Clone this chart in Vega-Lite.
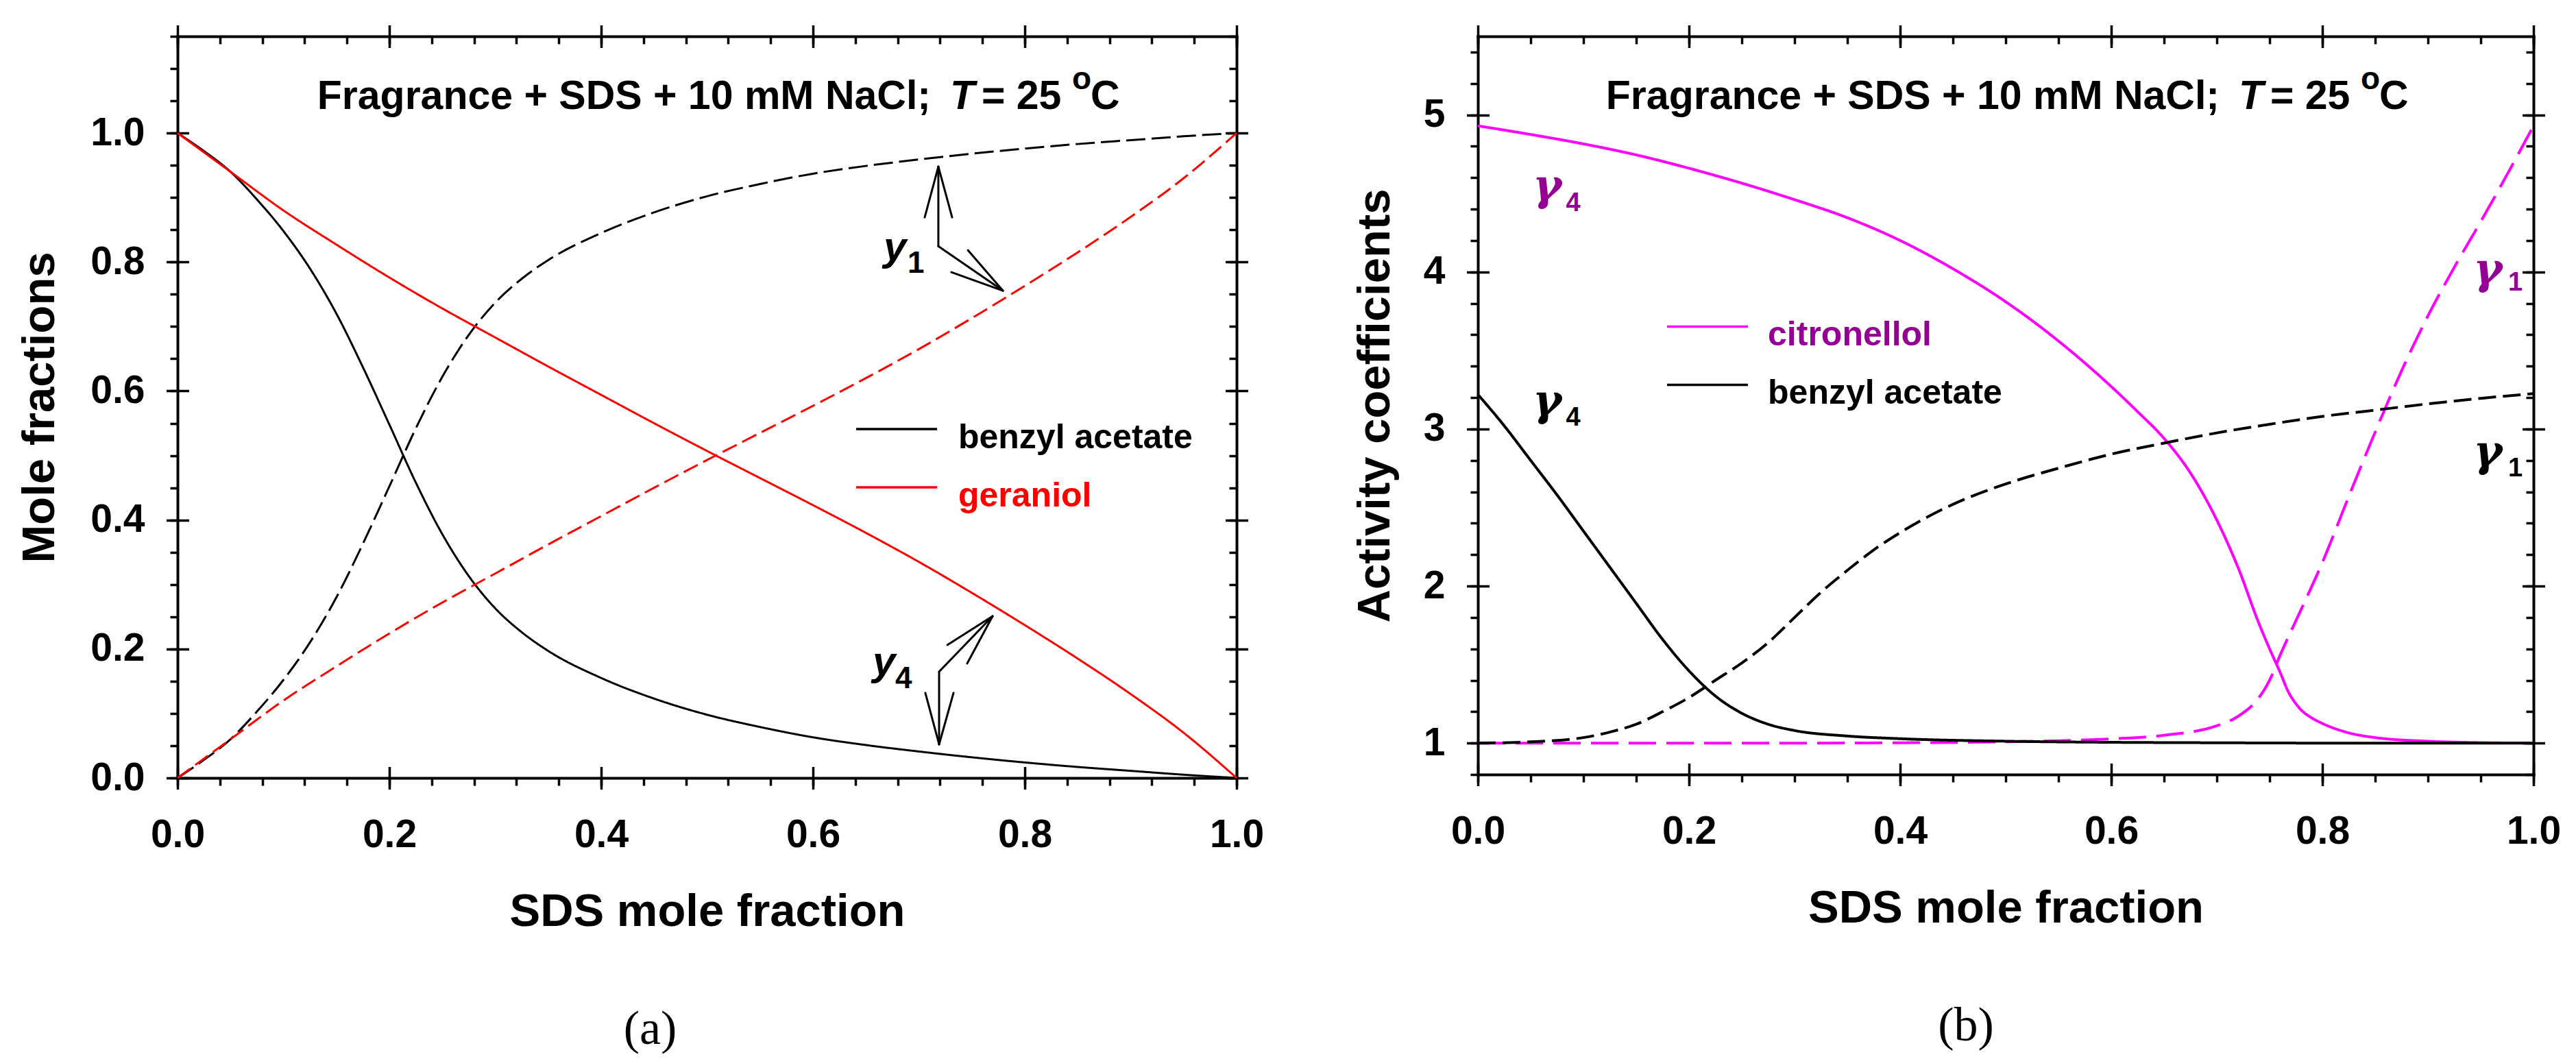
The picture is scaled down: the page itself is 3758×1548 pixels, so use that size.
{
  "$schema": "https://vega.github.io/schema/vega-lite/v6.json",
  "background": "white",
  "padding": {"left": 24, "top": 24, "right": 0, "bottom": 0},
  "spacing": 128,
  "resolve": {"scale": {"color": "independent", "strokeDash": "independent", "strokeWidth": "independent"}},
  "config": {
    "view": {"stroke": null},
    "axis": {
      "domainColor": "#000000", "domainWidth": 4, "domainCap": "square",
      "tickColor": "#000000", "tickWidth": 3.5, "tickCap": "butt",
      "labelFont": "Liberation Sans", "labelFontWeight": "bold", "labelFontSize": 57, "labelColor": "#000000",
      "titleFont": "Liberation Sans", "titleFontWeight": "bold", "titleFontSize": 67, "titleColor": "#000000",
      "grid": false, "labelFlush": false, "labelOverlap": false
    }
  },
  "datasets": {
    "a_curves": [
      {"s":"ba_y4","x":0,"y":1},{"s":"ba_y4","x":0.025,"y":0.972},{"s":"ba_y4","x":0.05,"y":0.94},{"s":"ba_y4","x":0.075,"y":0.897},{"s":"ba_y4","x":0.1,"y":0.848},{"s":"ba_y4","x":0.125,"y":0.79},{"s":"ba_y4","x":0.15,"y":0.72},{"s":"ba_y4","x":0.175,"y":0.637},{"s":"ba_y4","x":0.2,"y":0.548},{"s":"ba_y4","x":0.225,"y":0.458},{"s":"ba_y4","x":0.25,"y":0.378},{"s":"ba_y4","x":0.275,"y":0.313},{"s":"ba_y4","x":0.3,"y":0.263},{"s":"ba_y4","x":0.325,"y":0.226},{"s":"ba_y4","x":0.35,"y":0.197},{"s":"ba_y4","x":0.4,"y":0.155},{"s":"ba_y4","x":0.45,"y":0.123},{"s":"ba_y4","x":0.5,"y":0.098},{"s":"ba_y4","x":0.55,"y":0.079},{"s":"ba_y4","x":0.6,"y":0.063},{"s":"ba_y4","x":0.65,"y":0.051},{"s":"ba_y4","x":0.7,"y":0.041},{"s":"ba_y4","x":0.75,"y":0.032},{"s":"ba_y4","x":0.8,"y":0.024},{"s":"ba_y4","x":0.85,"y":0.017},{"s":"ba_y4","x":0.9,"y":0.011},{"s":"ba_y4","x":0.95,"y":0.005},{"s":"ba_y4","x":1,"y":0},
      {"s":"ba_y1","x":0,"y":0},{"s":"ba_y1","x":0.025,"y":0.028},{"s":"ba_y1","x":0.05,"y":0.06},{"s":"ba_y1","x":0.075,"y":0.103},{"s":"ba_y1","x":0.1,"y":0.152},{"s":"ba_y1","x":0.125,"y":0.21},{"s":"ba_y1","x":0.15,"y":0.28},{"s":"ba_y1","x":0.175,"y":0.363},{"s":"ba_y1","x":0.2,"y":0.452},{"s":"ba_y1","x":0.225,"y":0.542},{"s":"ba_y1","x":0.25,"y":0.622},{"s":"ba_y1","x":0.275,"y":0.687},{"s":"ba_y1","x":0.3,"y":0.737},{"s":"ba_y1","x":0.325,"y":0.774},{"s":"ba_y1","x":0.35,"y":0.803},{"s":"ba_y1","x":0.4,"y":0.845},{"s":"ba_y1","x":0.45,"y":0.877},{"s":"ba_y1","x":0.5,"y":0.902},{"s":"ba_y1","x":0.55,"y":0.921},{"s":"ba_y1","x":0.6,"y":0.937},{"s":"ba_y1","x":0.65,"y":0.949},{"s":"ba_y1","x":0.7,"y":0.959},{"s":"ba_y1","x":0.75,"y":0.968},{"s":"ba_y1","x":0.8,"y":0.976},{"s":"ba_y1","x":0.85,"y":0.983},{"s":"ba_y1","x":0.9,"y":0.989},{"s":"ba_y1","x":0.95,"y":0.995},{"s":"ba_y1","x":1,"y":1},
      {"s":"ger_y4","x":0,"y":1},{"s":"ger_y4","x":0.05,"y":0.94},{"s":"ger_y4","x":0.1,"y":0.88},{"s":"ger_y4","x":0.15,"y":0.827},{"s":"ger_y4","x":0.2,"y":0.776},{"s":"ger_y4","x":0.25,"y":0.728},{"s":"ger_y4","x":0.3,"y":0.683},{"s":"ger_y4","x":0.35,"y":0.638},{"s":"ger_y4","x":0.4,"y":0.594},{"s":"ger_y4","x":0.45,"y":0.55},{"s":"ger_y4","x":0.5,"y":0.507},{"s":"ger_y4","x":0.55,"y":0.465},{"s":"ger_y4","x":0.6,"y":0.423},{"s":"ger_y4","x":0.65,"y":0.38},{"s":"ger_y4","x":0.7,"y":0.335},{"s":"ger_y4","x":0.75,"y":0.287},{"s":"ger_y4","x":0.8,"y":0.237},{"s":"ger_y4","x":0.85,"y":0.185},{"s":"ger_y4","x":0.9,"y":0.13},{"s":"ger_y4","x":0.95,"y":0.07},{"s":"ger_y4","x":1,"y":0},
      {"s":"ger_y1","x":0,"y":0},{"s":"ger_y1","x":0.05,"y":0.06},{"s":"ger_y1","x":0.1,"y":0.12},{"s":"ger_y1","x":0.15,"y":0.173},{"s":"ger_y1","x":0.2,"y":0.224},{"s":"ger_y1","x":0.25,"y":0.272},{"s":"ger_y1","x":0.3,"y":0.317},{"s":"ger_y1","x":0.35,"y":0.362},{"s":"ger_y1","x":0.4,"y":0.406},{"s":"ger_y1","x":0.45,"y":0.45},{"s":"ger_y1","x":0.5,"y":0.493},{"s":"ger_y1","x":0.55,"y":0.535},{"s":"ger_y1","x":0.6,"y":0.577},{"s":"ger_y1","x":0.65,"y":0.62},{"s":"ger_y1","x":0.7,"y":0.665},{"s":"ger_y1","x":0.75,"y":0.713},{"s":"ger_y1","x":0.8,"y":0.763},{"s":"ger_y1","x":0.85,"y":0.815},{"s":"ger_y1","x":0.9,"y":0.87},{"s":"ger_y1","x":0.95,"y":0.93},{"s":"ger_y1","x":1,"y":1}
    ],
    "b_curves": [
      {"s":"cit_g4","x":0,"y":4.93},{"s":"cit_g4","x":0.05,"y":4.875},{"s":"cit_g4","x":0.1,"y":4.815},{"s":"cit_g4","x":0.15,"y":4.745},{"s":"cit_g4","x":0.2,"y":4.66},{"s":"cit_g4","x":0.25,"y":4.565},{"s":"cit_g4","x":0.3,"y":4.46},{"s":"cit_g4","x":0.35,"y":4.345},{"s":"cit_g4","x":0.4,"y":4.2},{"s":"cit_g4","x":0.45,"y":4.02},{"s":"cit_g4","x":0.5,"y":3.81},{"s":"cit_g4","x":0.55,"y":3.56},{"s":"cit_g4","x":0.6,"y":3.27},{"s":"cit_g4","x":0.625,"y":3.11},{"s":"cit_g4","x":0.65,"y":2.94},{"s":"cit_g4","x":0.675,"y":2.72},{"s":"cit_g4","x":0.7,"y":2.42},{"s":"cit_g4","x":0.72,"y":2.12},{"s":"cit_g4","x":0.74,"y":1.76},{"s":"cit_g4","x":0.75,"y":1.6},{"s":"cit_g4","x":0.76,"y":1.45},{"s":"cit_g4","x":0.7675,"y":1.33},{"s":"cit_g4","x":0.775,"y":1.25},{"s":"cit_g4","x":0.78,"y":1.21},{"s":"cit_g4","x":0.79,"y":1.16},{"s":"cit_g4","x":0.8,"y":1.125},{"s":"cit_g4","x":0.825,"y":1.065},{"s":"cit_g4","x":0.85,"y":1.035},{"s":"cit_g4","x":0.9,"y":1.012},{"s":"cit_g4","x":0.95,"y":1.003},{"s":"cit_g4","x":1,"y":1},
      {"s":"cit_g1","x":0,"y":1},{"s":"cit_g1","x":0.1,"y":1},{"s":"cit_g1","x":0.2,"y":1},{"s":"cit_g1","x":0.3,"y":1},{"s":"cit_g1","x":0.4,"y":1.002},{"s":"cit_g1","x":0.45,"y":1.004},{"s":"cit_g1","x":0.5,"y":1.008},{"s":"cit_g1","x":0.55,"y":1.015},{"s":"cit_g1","x":0.6,"y":1.027},{"s":"cit_g1","x":0.65,"y":1.05},{"s":"cit_g1","x":0.7,"y":1.11},{"s":"cit_g1","x":0.72,"y":1.17},{"s":"cit_g1","x":0.74,"y":1.29},{"s":"cit_g1","x":0.75,"y":1.4},{"s":"cit_g1","x":0.76,"y":1.56},{"s":"cit_g1","x":0.775,"y":1.78},{"s":"cit_g1","x":0.8,"y":2.15},{"s":"cit_g1","x":0.825,"y":2.57},{"s":"cit_g1","x":0.85,"y":2.98},{"s":"cit_g1","x":0.875,"y":3.37},{"s":"cit_g1","x":0.9,"y":3.72},{"s":"cit_g1","x":0.925,"y":4.03},{"s":"cit_g1","x":0.95,"y":4.32},{"s":"cit_g1","x":0.975,"y":4.62},{"s":"cit_g1","x":1,"y":4.93},
      {"s":"ba_g4","x":0,"y":3.22},{"s":"ba_g4","x":0.025,"y":3.02},{"s":"ba_g4","x":0.05,"y":2.8},{"s":"ba_g4","x":0.075,"y":2.58},{"s":"ba_g4","x":0.1,"y":2.35},{"s":"ba_g4","x":0.125,"y":2.12},{"s":"ba_g4","x":0.15,"y":1.89},{"s":"ba_g4","x":0.175,"y":1.66},{"s":"ba_g4","x":0.2,"y":1.46},{"s":"ba_g4","x":0.225,"y":1.3},{"s":"ba_g4","x":0.25,"y":1.19},{"s":"ba_g4","x":0.275,"y":1.12},{"s":"ba_g4","x":0.3,"y":1.08},{"s":"ba_g4","x":0.35,"y":1.045},{"s":"ba_g4","x":0.4,"y":1.028},{"s":"ba_g4","x":0.5,"y":1.012},{"s":"ba_g4","x":0.6,"y":1.005},{"s":"ba_g4","x":0.7,"y":1.002},{"s":"ba_g4","x":0.8,"y":1},{"s":"ba_g4","x":1,"y":1},
      {"s":"ba_g1","x":0,"y":1},{"s":"ba_g1","x":0.05,"y":1.008},{"s":"ba_g1","x":0.1,"y":1.035},{"s":"ba_g1","x":0.125,"y":1.07},{"s":"ba_g1","x":0.15,"y":1.12},{"s":"ba_g1","x":0.175,"y":1.2},{"s":"ba_g1","x":0.2,"y":1.29},{"s":"ba_g1","x":0.225,"y":1.4},{"s":"ba_g1","x":0.25,"y":1.51},{"s":"ba_g1","x":0.275,"y":1.64},{"s":"ba_g1","x":0.3,"y":1.8},{"s":"ba_g1","x":0.325,"y":1.96},{"s":"ba_g1","x":0.35,"y":2.1},{"s":"ba_g1","x":0.375,"y":2.23},{"s":"ba_g1","x":0.4,"y":2.34},{"s":"ba_g1","x":0.45,"y":2.52},{"s":"ba_g1","x":0.5,"y":2.65},{"s":"ba_g1","x":0.55,"y":2.75},{"s":"ba_g1","x":0.6,"y":2.84},{"s":"ba_g1","x":0.65,"y":2.91},{"s":"ba_g1","x":0.7,"y":2.975},{"s":"ba_g1","x":0.75,"y":3.03},{"s":"ba_g1","x":0.8,"y":3.08},{"s":"ba_g1","x":0.85,"y":3.12},{"s":"ba_g1","x":0.9,"y":3.16},{"s":"ba_g1","x":0.95,"y":3.195},{"s":"ba_g1","x":1,"y":3.225}
    ],
    "a_arrows": [
      {"x":0.7184,"y":0.8246,"x2":0.7184,"y2":0.9479},
      {"x":0.7184,"y":0.9479,"x2":0.7055,"y2":0.8693},
      {"x":0.7184,"y":0.9479,"x2":0.7314,"y2":0.8693},
      {"x":0.7184,"y":0.8246,"x2":0.7793,"y2":0.7556},
      {"x":0.7793,"y":0.7556,"x2":0.7307,"y2":0.7843},
      {"x":0.7793,"y":0.7556,"x2":0.7463,"y2":0.8183},
      {"x":0.7191,"y":0.1647,"x2":0.7191,"y2":0.0521},
      {"x":0.7191,"y":0.0521,"x2":0.7061,"y2":0.1318},
      {"x":0.7191,"y":0.0521,"x2":0.7327,"y2":0.1318},
      {"x":0.7191,"y":0.1647,"x2":0.7696,"y2":0.2508},
      {"x":0.7696,"y":0.2508,"x2":0.7269,"y2":0.2062},
      {"x":0.7696,"y":0.2508,"x2":0.7456,"y2":0.1775}
    ]
  },
  "hconcat": [
    {
      "width": 1545,
      "height": 1082,
      "title": {"text": "(a)", "orient": "bottom", "anchor": "middle", "frame": "group", "font": "Liberation Serif", "fontSize": 70, "fontWeight": "normal", "color": "#000000", "offset": 105, "dx": -83},
      "resolve": {"axis": {"x": "independent", "y": "independent"}},
      "layer": [
        {
          "data": {"name": "a_curves"},
          "mark": {"type": "line", "interpolate": "monotone", "strokeCap": "butt"},
          "encoding": {
            "x": {"field": "x", "type": "quantitative", "scale": {"domain": [0, 1], "nice": false, "zero": false},
              "axis": {"orient": "bottom", "values": [0,0.04,0.08,0.12,0.16,0.2,0.24,0.28,0.32,0.36,0.4,0.44,0.48,0.52,0.56,0.6,0.64,0.68,0.72,0.76,0.8,0.84,0.88,0.92,0.96,1],
                "labelExpr": "round(datum.value*25) % 5 == 0 ? format(datum.value, '.1f') : ''",
                "tickSize": 11, "labelPadding": 44, "title": "SDS mole fraction", "titlePadding": 51}},
            "y": {"field": "y", "type": "quantitative", "scale": {"domain": [0, 1.15], "nice": false, "zero": false},
              "axis": {"orient": "left", "values": [0,0.05,0.1,0.15,0.2,0.25,0.3,0.35,0.4,0.45,0.5,0.55,0.6,0.65,0.7,0.75,0.8,0.85,0.9,0.95,1,1.05,1.1,1.15],
                "labelExpr": "round(datum.value*20) % 4 == 0 ? format(datum.value, '.1f') : ''",
                "tickSize": 11, "labelPadding": 37, "title": "Mole fractions", "titlePadding": 39}},
            "color": {"field": "s", "type": "nominal", "scale": {"domain": ["ba_y4","ba_y1","ger_y4","ger_y1"], "range": ["#000000","#000000","#FF0000","#FF0000"]}, "legend": null},
            "strokeDash": {"field": "s", "type": "nominal", "scale": {"domain": ["ba_y4","ba_y1","ger_y4","ger_y1"], "range": [[1,0],[28,9],[1,0],[23,9]]}, "legend": null},
            "strokeWidth": {"field": "s", "type": "nominal", "scale": {"domain": ["ba_y4","ba_y1","ger_y4","ger_y1"], "range": [3,3,3.8,3.8]}, "legend": null}
          }
        },
        {
          "data": {"values": [{"x": 0, "y": 0}]},
          "mark": {"type": "point", "opacity": 0},
          "encoding": {
            "x": {"field": "x", "type": "quantitative", "scale": {"domain": [0, 1], "nice": false, "zero": false},
              "axis": {"orient": "bottom", "values": [0,0.2,0.4,0.6,0.8,1], "labels": false, "domain": false, "tickSize": 33, "offset": -16.5, "title": null}},
            "y": {"field": "y", "type": "quantitative", "scale": {"domain": [0, 1.15], "nice": false, "zero": false},
              "axis": {"orient": "left", "values": [0,0.2,0.4,0.6,0.8,1], "labels": false, "domain": false, "tickSize": 33, "offset": -16.5, "title": null}}
          }
        },
        {
          "data": {"values": [{"x": 0, "y": 0}]},
          "mark": {"type": "point", "opacity": 0},
          "encoding": {
            "x": {"field": "x", "type": "quantitative", "scale": {"domain": [0, 1], "nice": false, "zero": false},
              "axis": {"orient": "top", "values": [0,0.04,0.08,0.12,0.16,0.2,0.24,0.28,0.32,0.36,0.4,0.44,0.48,0.52,0.56,0.6,0.64,0.68,0.72,0.76,0.8,0.84,0.88,0.92,0.96,1], "labels": false, "tickSize": -11, "title": null}},
            "y": {"field": "y", "type": "quantitative", "scale": {"domain": [0, 1.15], "nice": false, "zero": false},
              "axis": {"orient": "right", "values": [0,0.05,0.1,0.15,0.2,0.25,0.3,0.35,0.4,0.45,0.5,0.55,0.6,0.65,0.7,0.75,0.8,0.85,0.9,0.95,1,1.05,1.1,1.15], "labels": false, "tickSize": -11, "title": null}}
          }
        },
        {
          "data": {"values": [{"x": 0, "y": 0}]},
          "mark": {"type": "point", "opacity": 0},
          "encoding": {
            "x": {"field": "x", "type": "quantitative", "scale": {"domain": [0, 1], "nice": false, "zero": false},
              "axis": {"orient": "top", "values": [0,0.2,0.4,0.6,0.8,1], "labels": false, "domain": false, "tickSize": 33, "offset": -16.5, "title": null}},
            "y": {"field": "y", "type": "quantitative", "scale": {"domain": [0, 1.15], "nice": false, "zero": false},
              "axis": {"orient": "right", "values": [0,0.2,0.4,0.6,0.8,1], "labels": false, "domain": false, "tickSize": 33, "offset": -16.5, "title": null}}
          }
        },
        {
          "data": {"values": [{"s": "ba_y4", "x": 0.6408, "x2": 0.7172, "y": 0.5409}, {"s": "ger_y4", "x": 0.6408, "x2": 0.7172, "y": 0.4506}]},
          "mark": {"type": "rule", "strokeWidth": 3.5},
          "encoding": {
            "x": {"field": "x", "type": "quantitative", "scale": {"domain": [0, 1], "nice": false, "zero": false}, "axis": null},
            "x2": {"field": "x2"},
            "y": {"field": "y", "type": "quantitative", "scale": {"domain": [0, 1.15], "nice": false, "zero": false}, "axis": null},
            "color": {"field": "s", "type": "nominal", "scale": {"domain": ["ba_y4","ba_y1","ger_y4","ger_y1"], "range": ["#000000","#000000","#FF0000","#FF0000"]}, "legend": null}
          }
        },
        {
          "data": {"values": [{"x": 0.7372, "y": 0.5111, "t": "benzyl acetate"}]},
          "mark": {"type": "text", "font": "Liberation Sans", "fontWeight": "bold", "fontSize": 50, "align": "left", "baseline": "alphabetic", "color": "#000000"},
          "encoding": {
            "x": {"field": "x", "type": "quantitative", "scale": {"domain": [0, 1], "nice": false, "zero": false}, "axis": null},
            "y": {"field": "y", "type": "quantitative", "scale": {"domain": [0, 1.15], "nice": false, "zero": false}, "axis": null},
            "text": {"field": "t"}
          }
        },
        {
          "data": {"values": [{"x": 0.7372, "y": 0.4208, "t": "geraniol"}]},
          "mark": {"type": "text", "font": "Liberation Sans", "fontWeight": "bold", "fontSize": 50, "align": "left", "baseline": "alphabetic", "color": "#FF0000"},
          "encoding": {
            "x": {"field": "x", "type": "quantitative", "scale": {"domain": [0, 1], "nice": false, "zero": false}, "axis": null},
            "y": {"field": "y", "type": "quantitative", "scale": {"domain": [0, 1.15], "nice": false, "zero": false}, "axis": null},
            "text": {"field": "t"}
          }
        },
        {
          "data": {"values": [{"x": 0.7113, "y": 1.0372, "t": "Fragrance + SDS + 10 mM NaCl;"}]},
          "mark": {"type": "text", "font": "Liberation Sans", "fontWeight": "bold", "fontSize": 59, "align": "right", "baseline": "alphabetic", "color": "#000000"},
          "encoding": {
            "x": {"field": "x", "type": "quantitative", "scale": {"domain": [0, 1], "nice": false, "zero": false}, "axis": null},
            "y": {"field": "y", "type": "quantitative", "scale": {"domain": [0, 1.15], "nice": false, "zero": false}, "axis": null},
            "text": {"field": "t"}
          }
        },
        {
          "data": {"values": [{"x": 0.7592, "y": 1.0372, "t": "= 25"}, {"x": 0.8621, "y": 1.0372, "t": "C"}]},
          "mark": {"type": "text", "font": "Liberation Sans", "fontWeight": "bold", "fontSize": 59, "align": "left", "baseline": "alphabetic", "color": "#000000"},
          "encoding": {
            "x": {"field": "x", "type": "quantitative", "scale": {"domain": [0, 1], "nice": false, "zero": false}, "axis": null},
            "y": {"field": "y", "type": "quantitative", "scale": {"domain": [0, 1.15], "nice": false, "zero": false}, "axis": null},
            "text": {"field": "t"}
          }
        },
        {
          "data": {"values": [{"x": 0.7294, "y": 1.0372, "t": "T"}]},
          "mark": {"type": "text", "font": "Liberation Sans", "fontWeight": "bold", "fontStyle": "italic", "fontSize": 59, "align": "left", "baseline": "alphabetic", "color": "#000000"},
          "encoding": {
            "x": {"field": "x", "type": "quantitative", "scale": {"domain": [0, 1], "nice": false, "zero": false}, "axis": null},
            "y": {"field": "y", "type": "quantitative", "scale": {"domain": [0, 1.15], "nice": false, "zero": false}, "axis": null},
            "text": {"field": "t"}
          }
        },
        {
          "data": {"values": [{"x": 0.8447, "y": 1.068, "t": "o"}]},
          "mark": {"type": "text", "font": "Liberation Sans", "fontWeight": "bold", "fontSize": 46, "align": "left", "baseline": "alphabetic", "color": "#000000"},
          "encoding": {
            "x": {"field": "x", "type": "quantitative", "scale": {"domain": [0, 1], "nice": false, "zero": false}, "axis": null},
            "y": {"field": "y", "type": "quantitative", "scale": {"domain": [0, 1.15], "nice": false, "zero": false}, "axis": null},
            "text": {"field": "t"}
          }
        },
        {
          "data": {"values": [{"x": 0.6667, "y": 0.8023, "t": "y"}, {"x": 0.6563, "y": 0.1594, "t": "y"}]},
          "mark": {"type": "text", "font": "Liberation Sans", "fontWeight": "bold", "fontStyle": "italic", "fontSize": 60, "align": "left", "baseline": "alphabetic", "color": "#000000"},
          "encoding": {
            "x": {"field": "x", "type": "quantitative", "scale": {"domain": [0, 1], "nice": false, "zero": false}, "axis": null},
            "y": {"field": "y", "type": "quantitative", "scale": {"domain": [0, 1.15], "nice": false, "zero": false}, "axis": null},
            "text": {"field": "t"}
          }
        },
        {
          "data": {"values": [{"x": 0.6893, "y": 0.7832, "t": "1"}, {"x": 0.6777, "y": 0.1392, "t": "4"}]},
          "mark": {"type": "text", "font": "Liberation Sans", "fontWeight": "bold", "fontSize": 44, "align": "left", "baseline": "alphabetic", "color": "#000000"},
          "encoding": {
            "x": {"field": "x", "type": "quantitative", "scale": {"domain": [0, 1], "nice": false, "zero": false}, "axis": null},
            "y": {"field": "y", "type": "quantitative", "scale": {"domain": [0, 1.15], "nice": false, "zero": false}, "axis": null},
            "text": {"field": "t"}
          }
        },
        {
          "data": {"name": "a_arrows"},
          "mark": {"type": "rule", "color": "#000000", "strokeWidth": 3, "strokeCap": "round"},
          "encoding": {
            "x": {"field": "x", "type": "quantitative", "scale": {"domain": [0, 1], "nice": false, "zero": false}, "axis": null},
            "y": {"field": "y", "type": "quantitative", "scale": {"domain": [0, 1.15], "nice": false, "zero": false}, "axis": null},
            "x2": {"field": "x2"},
            "y2": {"field": "y2"}
          }
        }
      ]
    },
    {
      "width": 1540,
      "height": 1077,
      "title": {"text": "(b)", "orient": "bottom", "anchor": "middle", "frame": "group", "font": "Liberation Serif", "fontSize": 70, "fontWeight": "normal", "color": "#000000", "offset": 105, "dx": -58},
      "resolve": {"axis": {"x": "independent", "y": "independent"}},
      "layer": [
        {
          "data": {"name": "b_curves"},
          "mark": {"type": "line", "interpolate": "monotone", "strokeCap": "butt"},
          "encoding": {
            "x": {"field": "x", "type": "quantitative", "scale": {"domain": [0, 1], "nice": false, "zero": false},
              "axis": {"orient": "bottom", "values": [0,0.05,0.1,0.15,0.2,0.25,0.3,0.35,0.4,0.45,0.5,0.55,0.6,0.65,0.7,0.75,0.8,0.85,0.9,0.95,1],
                "labelExpr": "round(datum.value*20) % 4 == 0 ? format(datum.value, '.1f') : ''",
                "tickSize": 11, "labelPadding": 44, "title": "SDS mole fraction", "titlePadding": 51}},
            "y": {"field": "y", "type": "quantitative", "scale": {"domain": [0.8, 5.5], "nice": false, "zero": false},
              "axis": {"orient": "left", "values": [0.8,1,1.2,1.4,1.6,1.8,2,2.2,2.4,2.6,2.8,3,3.2,3.4,3.6,3.8,4,4.2,4.4,4.6,4.8,5,5.2,5.4],
                "labelExpr": "abs(datum.value - round(datum.value)) < 0.01 ? format(datum.value, 'd') : ''",
                "tickSize": 11, "labelPadding": 37, "title": "Activity coefficients", "titlePadding": 36}},
            "color": {"field": "s", "type": "nominal", "scale": {"domain": ["cit_g4","cit_g1","ba_g4","ba_g1"], "range": ["#FF00FF","#FF00FF","#000000","#000000"]}, "legend": null},
            "strokeDash": {"field": "s", "type": "nominal", "scale": {"domain": ["cit_g4","cit_g1","ba_g4","ba_g1"], "range": [[1,0],[40,15],[1,0],[26,10]]}, "legend": null},
            "strokeWidth": {"field": "s", "type": "nominal", "scale": {"domain": ["cit_g4","cit_g1","ba_g4","ba_g1"], "range": [4,4,3,3]}, "legend": null}
          }
        },
        {
          "data": {"values": [{"x": 0, "y": 1}]},
          "mark": {"type": "point", "opacity": 0},
          "encoding": {
            "x": {"field": "x", "type": "quantitative", "scale": {"domain": [0, 1], "nice": false, "zero": false},
              "axis": {"orient": "bottom", "values": [0,0.2,0.4,0.6,0.8,1], "labels": false, "domain": false, "tickSize": 33, "offset": -16.5, "title": null}},
            "y": {"field": "y", "type": "quantitative", "scale": {"domain": [0.8, 5.5], "nice": false, "zero": false},
              "axis": {"orient": "left", "values": [1,2,3,4,5], "labels": false, "domain": false, "tickSize": 33, "offset": -16.5, "title": null}}
          }
        },
        {
          "data": {"values": [{"x": 0, "y": 1}]},
          "mark": {"type": "point", "opacity": 0},
          "encoding": {
            "x": {"field": "x", "type": "quantitative", "scale": {"domain": [0, 1], "nice": false, "zero": false},
              "axis": {"orient": "top", "values": [0,0.05,0.1,0.15,0.2,0.25,0.3,0.35,0.4,0.45,0.5,0.55,0.6,0.65,0.7,0.75,0.8,0.85,0.9,0.95,1], "labels": false, "tickSize": -11, "title": null}},
            "y": {"field": "y", "type": "quantitative", "scale": {"domain": [0.8, 5.5], "nice": false, "zero": false},
              "axis": {"orient": "right", "values": [0.8,1,1.2,1.4,1.6,1.8,2,2.2,2.4,2.6,2.8,3,3.2,3.4,3.6,3.8,4,4.2,4.4,4.6,4.8,5,5.2,5.4], "labels": false, "tickSize": -11, "title": null}}
          }
        },
        {
          "data": {"values": [{"x": 0, "y": 1}]},
          "mark": {"type": "point", "opacity": 0},
          "encoding": {
            "x": {"field": "x", "type": "quantitative", "scale": {"domain": [0, 1], "nice": false, "zero": false},
              "axis": {"orient": "top", "values": [0,0.2,0.4,0.6,0.8,1], "labels": false, "domain": false, "tickSize": 33, "offset": -16.5, "title": null}},
            "y": {"field": "y", "type": "quantitative", "scale": {"domain": [0.8, 5.5], "nice": false, "zero": false},
              "axis": {"orient": "right", "values": [1,2,3,4,5], "labels": false, "domain": false, "tickSize": 33, "offset": -16.5, "title": null}}
          }
        },
        {
          "data": {"values": [{"s": "cit_g4", "x": 0.1792, "x2": 0.2558, "y": 3.652}, {"s": "ba_g4", "x": 0.1792, "x2": 0.2558, "y": 3.281}]},
          "mark": {"type": "rule", "strokeWidth": 3.5},
          "encoding": {
            "x": {"field": "x", "type": "quantitative", "scale": {"domain": [0, 1], "nice": false, "zero": false}, "axis": null},
            "x2": {"field": "x2"},
            "y": {"field": "y", "type": "quantitative", "scale": {"domain": [0.8, 5.5], "nice": false, "zero": false}, "axis": null},
            "color": {"field": "s", "type": "nominal", "scale": {"domain": ["cit_g4","cit_g1","ba_g4","ba_g1"], "range": ["#FF00FF","#FF00FF","#000000","#000000"]}, "legend": null}
          }
        },
        {
          "data": {"values": [{"x": 0.2747, "y": 3.53, "t": "citronellol"}]},
          "mark": {"type": "text", "font": "Liberation Sans", "fontWeight": "bold", "fontSize": 50, "align": "left", "baseline": "alphabetic", "color": "#930093"},
          "encoding": {
            "x": {"field": "x", "type": "quantitative", "scale": {"domain": [0, 1], "nice": false, "zero": false}, "axis": null},
            "y": {"field": "y", "type": "quantitative", "scale": {"domain": [0.8, 5.5], "nice": false, "zero": false}, "axis": null},
            "text": {"field": "t"}
          }
        },
        {
          "data": {"values": [{"x": 0.2747, "y": 3.159, "t": "benzyl acetate"}]},
          "mark": {"type": "text", "font": "Liberation Sans", "fontWeight": "bold", "fontSize": 50, "align": "left", "baseline": "alphabetic", "color": "#000000"},
          "encoding": {
            "x": {"field": "x", "type": "quantitative", "scale": {"domain": [0, 1], "nice": false, "zero": false}, "axis": null},
            "y": {"field": "y", "type": "quantitative", "scale": {"domain": [0.8, 5.5], "nice": false, "zero": false}, "axis": null},
            "text": {"field": "t"}
          }
        },
        {
          "data": {"values": [{"x": 0.7026, "y": 5.039, "t": "Fragrance + SDS + 10 mM NaCl;"}]},
          "mark": {"type": "text", "font": "Liberation Sans", "fontWeight": "bold", "fontSize": 59, "align": "right", "baseline": "alphabetic", "color": "#000000"},
          "encoding": {
            "x": {"field": "x", "type": "quantitative", "scale": {"domain": [0, 1], "nice": false, "zero": false}, "axis": null},
            "y": {"field": "y", "type": "quantitative", "scale": {"domain": [0.8, 5.5], "nice": false, "zero": false}, "axis": null},
            "text": {"field": "t"}
          }
        },
        {
          "data": {"values": [{"x": 0.7506, "y": 5.039, "t": "= 25"}, {"x": 0.8539, "y": 5.039, "t": "C"}]},
          "mark": {"type": "text", "font": "Liberation Sans", "fontWeight": "bold", "fontSize": 59, "align": "left", "baseline": "alphabetic", "color": "#000000"},
          "encoding": {
            "x": {"field": "x", "type": "quantitative", "scale": {"domain": [0, 1], "nice": false, "zero": false}, "axis": null},
            "y": {"field": "y", "type": "quantitative", "scale": {"domain": [0.8, 5.5], "nice": false, "zero": false}, "axis": null},
            "text": {"field": "t"}
          }
        },
        {
          "data": {"values": [{"x": 0.7208, "y": 5.039, "t": "T"}]},
          "mark": {"type": "text", "font": "Liberation Sans", "fontWeight": "bold", "fontStyle": "italic", "fontSize": 59, "align": "left", "baseline": "alphabetic", "color": "#000000"},
          "encoding": {
            "x": {"field": "x", "type": "quantitative", "scale": {"domain": [0, 1], "nice": false, "zero": false}, "axis": null},
            "y": {"field": "y", "type": "quantitative", "scale": {"domain": [0.8, 5.5], "nice": false, "zero": false}, "axis": null},
            "text": {"field": "t"}
          }
        },
        {
          "data": {"values": [{"x": 0.8364, "y": 5.166, "t": "o"}]},
          "mark": {"type": "text", "font": "Liberation Sans", "fontWeight": "bold", "fontSize": 46, "align": "left", "baseline": "alphabetic", "color": "#000000"},
          "encoding": {
            "x": {"field": "x", "type": "quantitative", "scale": {"domain": [0, 1], "nice": false, "zero": false}, "axis": null},
            "y": {"field": "y", "type": "quantitative", "scale": {"domain": [0.8, 5.5], "nice": false, "zero": false}, "axis": null},
            "text": {"field": "t"}
          }
        },
        {
          "data": {"values": [{"x": 0.0519, "y": 4.455, "t": "γ"}, {"x": 0.943, "y": 3.923, "t": "γ"}]},
          "mark": {"type": "text", "font": "DejaVu Serif", "fontWeight": "bold", "fontStyle": "italic", "fontSize": 64, "align": "left", "baseline": "alphabetic", "color": "#930093"},
          "encoding": {
            "x": {"field": "x", "type": "quantitative", "scale": {"domain": [0, 1], "nice": false, "zero": false}, "axis": null},
            "y": {"field": "y", "type": "quantitative", "scale": {"domain": [0.8, 5.5], "nice": false, "zero": false}, "axis": null},
            "text": {"field": "t"}
          }
        },
        {
          "data": {"values": [{"x": 0.0519, "y": 3.085, "t": "γ"}, {"x": 0.943, "y": 2.762, "t": "γ"}]},
          "mark": {"type": "text", "font": "DejaVu Serif", "fontWeight": "bold", "fontStyle": "italic", "fontSize": 64, "align": "left", "baseline": "alphabetic", "color": "#000000"},
          "encoding": {
            "x": {"field": "x", "type": "quantitative", "scale": {"domain": [0, 1], "nice": false, "zero": false}, "axis": null},
            "y": {"field": "y", "type": "quantitative", "scale": {"domain": [0.8, 5.5], "nice": false, "zero": false}, "axis": null},
            "text": {"field": "t"}
          }
        },
        {
          "data": {"values": [{"x": 0.0835, "y": 4.389, "t": "4"}, {"x": 0.976, "y": 3.879, "t": "1"}]},
          "mark": {"type": "text", "font": "Liberation Sans", "fontWeight": "bold", "fontSize": 38, "align": "left", "baseline": "alphabetic", "color": "#930093"},
          "encoding": {
            "x": {"field": "x", "type": "quantitative", "scale": {"domain": [0, 1], "nice": false, "zero": false}, "axis": null},
            "y": {"field": "y", "type": "quantitative", "scale": {"domain": [0.8, 5.5], "nice": false, "zero": false}, "axis": null},
            "text": {"field": "t"}
          }
        },
        {
          "data": {"values": [{"x": 0.0835, "y": 3.02, "t": "4"}, {"x": 0.976, "y": 2.697, "t": "1"}]},
          "mark": {"type": "text", "font": "Liberation Sans", "fontWeight": "bold", "fontSize": 38, "align": "left", "baseline": "alphabetic", "color": "#000000"},
          "encoding": {
            "x": {"field": "x", "type": "quantitative", "scale": {"domain": [0, 1], "nice": false, "zero": false}, "axis": null},
            "y": {"field": "y", "type": "quantitative", "scale": {"domain": [0.8, 5.5], "nice": false, "zero": false}, "axis": null},
            "text": {"field": "t"}
          }
        }
      ]
    }
  ]
}
